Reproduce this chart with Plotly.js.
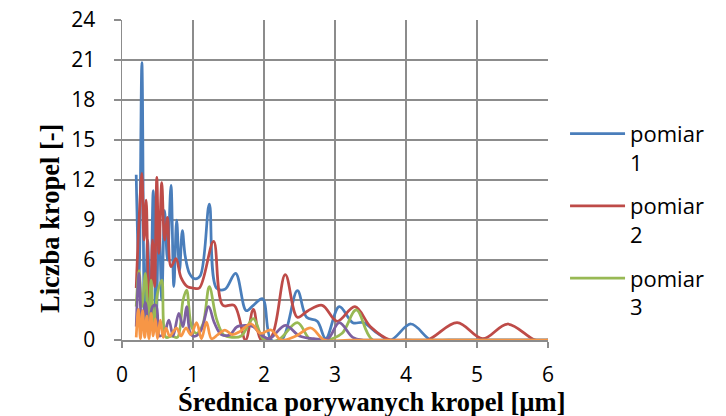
<!DOCTYPE html>
<html>
<head>
<meta charset="utf-8">
<script src="https://cdn.plot.ly/plotly-3.0.1.min.js"></script>
<style>html,body{margin:0;padding:0;background:#fff;}#chart{width:726px;height:416px;}</style>
</head>
<body>
<div id="chart"></div>
<script>
// Series names
const seriesNames = ["pomiar<br>1", "pomiar<br>2", "pomiar<br>3", "pomiar 4", "pomiar 5"];

// pomiar 1 (blue)
const x1 = [0.2, 0.24, 0.28, 0.32, 0.36, 0.40, 0.44, 0.48, 0.52, 0.56, 0.60, 0.64, 0.69, 0.73, 0.77, 0.81, 0.85, 0.89, 0.95, 1.02, 1.10, 1.23, 1.33, 1.45, 1.60, 1.75, 1.85, 1.98, 2.10, 2.25, 2.47, 2.60, 2.75, 2.87, 3.06, 3.25, 3.40, 3.60, 3.78, 4.07, 4.35, 4.60, 5.00, 5.50, 6.00];
const y1 = [12.4, 5.0, 20.8, 0.5, 7.5, 2.0, 11.2, 1.0, 9.5, 3.0, 9.7, 6.0, 11.6, 4.0, 9.0, 5.2, 8.2, 6.3, 5.0, 4.6, 4.8, 10.2, 3.9, 3.8, 5.0, 2.2, 2.6, 3.1, 0.0, 0.0, 3.7, 1.7, 1.4, 0.1, 2.5, 1.3, 1.3, 0.5, 0.0, 1.2, 0.0, 0.0, 0.0, 0.0, 0.0];

// pomiar 2 (red)
const x2 = [0.2, 0.24, 0.28, 0.31, 0.34, 0.37, 0.40, 0.43, 0.46, 0.49, 0.52, 0.56, 0.60, 0.64, 0.69, 0.76, 0.83, 0.92, 1.00, 1.09, 1.29, 1.42, 1.58, 1.74, 1.85, 1.96, 2.10, 2.30, 2.47, 2.62, 2.82, 3.03, 3.28, 3.50, 3.78, 4.00, 4.30, 4.72, 5.08, 5.43, 5.82, 6.00];
const y2 = [3.9, 9.0, 12.5, 7.5, 10.5, 4.5, 2.5, 7.5, 4.0, 12.2, 6.5, 11.8, 7.5, 9.2, 5.5, 6.1, 4.7, 4.0, 3.9, 3.9, 7.4, 2.6, 2.6, 0.0, 2.3, 0.0, 0.2, 4.9, 1.7, 2.2, 2.6, 1.4, 2.5, 1.0, 0.0, 0.0, 0.0, 1.3, 0.1, 1.2, 0.0, 0.0];

// pomiar 3 (green)
const x3 = [0.2, 0.24, 0.28, 0.33, 0.37, 0.41, 0.45, 0.50, 0.56, 0.62, 0.70, 0.78, 0.86, 0.91, 0.98, 1.05, 1.14, 1.23, 1.33, 1.43, 1.55, 1.68, 1.85, 2.00, 2.20, 2.47, 2.66, 2.90, 3.10, 3.30, 3.53, 4.00, 5.00, 6.00];
const y3 = [2.5, 5.2, 2.5, 5.0, 0.5, 4.5, 1.0, 3.5, 4.5, 0.2, 0.3, 0.2, 3.0, 3.75, 1.0, 0.5, 1.2, 4.0, 1.6, 0.4, 0.2, 0.3, 1.6, 0.0, 0.0, 1.3, 0.0, 0.0, 0.5, 2.25, 0.0, 0.0, 0.0, 0.0];

// pomiar 4 (purple)
const x4 = [0.2, 0.24, 0.28, 0.33, 0.38, 0.43, 0.48, 0.53, 0.60, 0.66, 0.72, 0.80, 0.86, 0.91, 0.97, 1.04, 1.12, 1.22, 1.30, 1.40, 1.52, 1.62, 1.75, 1.85, 1.98, 2.08, 2.30, 2.50, 2.70, 2.90, 3.06, 3.25, 3.40, 3.60, 4.00, 5.00, 6.00];
const y4 = [1.0, 5.0, 0.8, 2.8, 0.5, 2.5, 2.6, 0.3, 0.6, 1.5, 0.3, 2.0, 1.0, 2.5, 0.4, 0.3, 0.8, 2.5, 1.3, 0.4, 0.4, 1.0, 1.1, 1.0, 0.3, 0.1, 1.1, 0.3, 0.1, 0.1, 1.3, 0.2, 0.0, 0.0, 0.0, 0.0, 0.0];

// pomiar 5 (orange)
const x5 = [0.2, 0.23, 0.26, 0.29, 0.32, 0.35, 0.38, 0.41, 0.44, 0.47, 0.50, 0.54, 0.58, 0.62, 0.67, 0.72, 0.77, 0.83, 0.90, 0.97, 1.05, 1.12, 1.19, 1.26, 1.35, 1.45, 1.55, 1.65, 1.82, 1.95, 2.10, 2.24, 2.45, 2.66, 2.85, 3.20, 4.00, 5.00, 6.00];
const y5 = [0.2, 2.3, 0.1, 2.2, 0.2, 1.8, 0.1, 2.0, 0.3, 1.6, 0.1, 1.5, 0.2, 0.9, 0.3, 0.6, 0.9, 0.3, 0.9, 0.4, 1.3, 0.1, 1.35, 0.1, 0.4, 0.75, 0.4, 0.6, 1.2, 0.5, 0.75, 0.0, 0.3, 0.9, 0.0, 0.0, 0.0, 0.0, 0.0];

const xTicks = [0, 1, 2, 3, 4, 5, 6];
const yTicks = [0, 3, 6, 9, 12, 15, 18, 21, 24];
const xTitle = "Średnica porywanych kropel [µm]";
const yTitle = "Liczba kropel [-]";

const colors = ["#4a7ebb", "#be4b48", "#98b954", "#7d60a0", "#f79646"];
const xs = [x1, x2, x3, x4, x5];
const ys = [y1, y2, y3, y4, y5];

const traces = xs.map((xv, i) => ({
  x: xv, y: ys[i], type: "scatter", mode: "lines",
  name: seriesNames[i],
  legendgroup: "g" + i,
  showlegend: i < 3,
  line: {color: colors[i], width: 2.75, shape: "spline", smoothing: 1},
  hoverinfo: "none"
}));

const gridColor = "#8c8c8c";
const layout = {
  width: 726, height: 416,
  margin: {l: 122, r: 178, t: 20, b: 76, pad: 0},
  paper_bgcolor: "#ffffff", plot_bgcolor: "#ffffff",
  font: {family: "Open Sans, DejaVu Sans, sans-serif", size: 21, color: "#000"},
  xaxis: {
    range: [0, 6], tickvals: xTicks, ticktext: xTicks.map(String),
    showgrid: true, gridcolor: gridColor, gridwidth: 1.5,
    showline: true, linecolor: gridColor, linewidth: 1.5,
    ticks: "outside", ticklen: 6, tickcolor: gridColor, tickwidth: 1.5,
    ticklabelstandoff: 9, zeroline: false, fixedrange: true,
    tickfont: {family: "Open Sans, sans-serif", size: 21, color: "#000"}
  },
  yaxis: {
    range: [0, 24], tickvals: yTicks, ticktext: yTicks.map(String),
    showgrid: true, gridcolor: gridColor, gridwidth: 1.5,
    showline: true, linecolor: gridColor, linewidth: 1.5,
    ticks: "outside", ticklen: 7, tickcolor: gridColor, tickwidth: 1.5,
    ticklabelstandoff: 14, zeroline: false, fixedrange: true,
    tickfont: {family: "Open Sans, sans-serif", size: 21, color: "#000"}
  },
  showlegend: true,
  legend: {
    x: 1.04, xanchor: "left", y: 0.71, yanchor: "top",
    valign: "top", traceorder: "grouped", tracegroupgap: 12,
    itemwidth: 55,
    font: {family: "Open Sans, sans-serif", size: 22, color: "#000"},
    bgcolor: "rgba(0,0,0,0)", borderwidth: 0
  },
  annotations: [
    {text: "<b>" + xTitle + "</b>", xref: "paper", yref: "paper",
     x: (372 - 122) / 426, y: -(402 - 340) / 320, xanchor: "center", yanchor: "middle",
     showarrow: false, font: {family: "Liberation Serif, Times New Roman, serif", size: 26.5, color: "#000"}},
    {text: "<b>" + yTitle + "</b>", xref: "paper", yref: "paper", textangle: -90,
     x: -(122 - 50) / 426, y: (340 - 219) / 320, xanchor: "center", yanchor: "middle",
     showarrow: false, font: {family: "Liberation Serif, Times New Roman, serif", size: 26.5, color: "#000"}}
  ]
};

Plotly.newPlot("chart", traces, layout, {staticPlot: true, displayModeBar: false});
</script>
</body>
</html>
